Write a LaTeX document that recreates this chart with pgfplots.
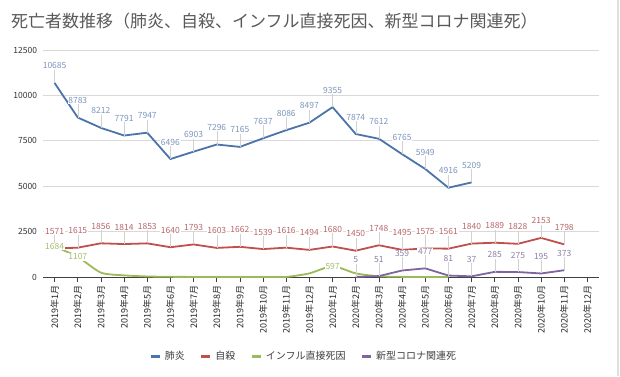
\documentclass[border=0pt]{standalone}
\usepackage{pgfplots}
\pgfplotsset{compat=1.18}
\usepackage{fontspec}
\setmainfont{Noto Sans CJK JP}
\definecolor{cBlue}{HTML}{4A74AA}
\definecolor{cRed}{HTML}{C0504D}
\definecolor{cGreen}{HTML}{9BBB59}
\definecolor{cPurple}{HTML}{8064A2}
\definecolor{lBlue}{HTML}{7C96BC}
\definecolor{lRed}{HTML}{B8676A}
\definecolor{lGreen}{HTML}{A3C06E}
\definecolor{lPurple}{HTML}{8D80A6}
\definecolor{txt}{HTML}{595959}
\pgfplotsset{
  lbl/.style={nodes near coords,
    every node near coord/.append style={anchor=center, yshift=17pt, fill=white, inner sep=0.8pt,
      font=\fontsize{8.5}{8.5}\selectfont, text=#1}},
  leader/.style={error bars/.cd, y dir=plus, y fixed=800, error mark=none,
    error bar style={black!18, line width=0.5pt}},
}
\begin{document}
\begin{tikzpicture}[x=1pt,y=1pt]
\path[use as bounding box] (0,0) rectangle (620,-376);
\draw[black!12, line width=1.2pt] (618,0) -- (618,-376);
\node[anchor=west, font=\fontsize{17}{17}\selectfont, text=txt, inner sep=0] at (11,-21)
  {死亡者数推移（肺炎、自殺、インフル直接死因、新型コロナ関連死）};
\begin{axis}[
  at={(43pt,-277pt)}, anchor=south west,
  scale only axis, width=556pt, height=227pt,
  xmin=-0.5, xmax=23.5, ymin=0, ymax=12500,
  xtick={0,...,23},
  xticklabels={2019年1月,2019年2月,2019年3月,2019年4月,2019年5月,2019年6月,2019年7月,2019年8月,2019年9月,2019年10月,2019年11月,2019年12月,2020年1月,2020年2月,2020年3月,2020年4月,2020年5月,2020年6月,2020年7月,2020年8月,2020年9月,2020年10月,2020年11月,2020年12月},
  ytick={0,2500,5000,7500,10000,12500},
  scaled y ticks=false,
  axis x line=bottom, axis y line=left,
  axis line style={-},
  y axis line style={draw=none},
  x axis line style={black!75, line width=0.9pt},
  xtick align=outside, major tick length=5pt,
  xtick style={black!75, line width=0.8pt},
  ytick style={draw=none},
  ymajorgrids, grid style={black!15, line width=0.8pt},
  /pgf/number format/assume math mode=true,
  /pgf/number format/1000 sep={},
  yticklabel style={font=\fontsize{8.5}{8.5}\selectfont, text=black!80},
  xticklabel style={font=\fontsize{9}{9}\selectfont, rotate=90, anchor=east, text=black!85},
  legend style={at={(axis description cs:0.469,-0.348)}, anchor=center, draw=none,
    font=\fontsize{10}{10}\selectfont, text=black!75, legend columns=4,
    /tikz/every odd column/.append style={column sep=1.5pt},
    /tikz/every even column/.append style={column sep=13pt},
    nodes={inner sep=2pt}},
  legend image code/.code={\draw[#1, line width=3pt] (0pt,0pt) -- (9pt,0pt);},
]
\addplot[cBlue, line width=1.8pt, lbl=lBlue, leader] coordinates {
(0,10685)(1,8783)(2,8212)(3,7791)(4,7947)(5,6496)(6,6903)(7,7296)(8,7165)(9,7637)(10,8086)(11,8497)
(12,9355)(13,7874)(14,7612)(15,6765)(16,5949)(17,4916)(18,5209)};
\addlegendentry{肺炎}
\addplot[cRed, line width=1.8pt, lbl=lRed, leader] coordinates {
(0,1571)(1,1615)(2,1856)(3,1814)(4,1853)(5,1640)(6,1793)(7,1603)(8,1662)(9,1539)(10,1616)(11,1494)
(12,1680)(13,1450)(14,1748)(15,1495)(16,1575)(17,1561)(18,1840)(19,1889)(20,1828)(21,2153)(22,1798)};
\addlegendentry{自殺}
\addplot[cGreen, line width=1.8pt, smooth, tension=0.4] coordinates {
(0,1684)(1,1107)(2,240)(3,90)(4,30)(5,10)(6,5)(7,3)(8,3)(9,3)(10,5)(11,200)
(12,597)(13,200)(14,40)(15,8)(16,3)(17,2)};
\addlegendentry{インフル直接死因}
\addplot[cPurple, line width=1.8pt, lbl=lPurple, leader] coordinates {
(13,5)(14,51)(15,359)(16,477)(17,81)(18,37)(19,285)(20,275)(21,195)(22,373)};
\addlegendentry{新型コロナ関連死}
\addplot[draw=none, mark=none, forget plot, nodes near coords,
  every node near coord/.append style={anchor=center, fill=white, inner sep=0.6pt,
    font=\fontsize{8.5}{8.5}\selectfont, text=lGreen}] coordinates {
(0,1684)(1,1107)(12,597)};
\end{axis}
\end{tikzpicture}
\end{document}
